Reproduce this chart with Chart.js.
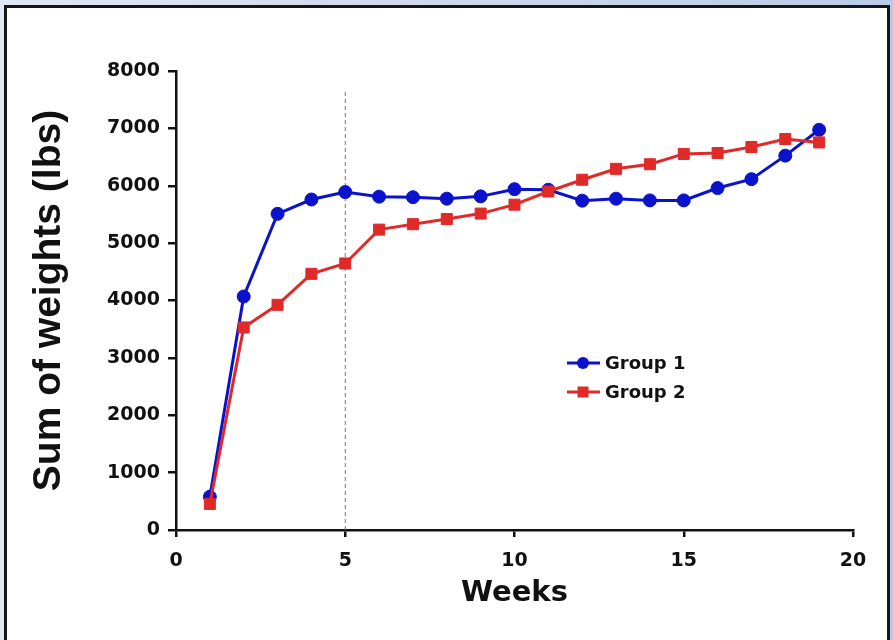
<!DOCTYPE html>
<html>
<head>
<meta charset="utf-8">
<script src="https://cdn.jsdelivr.net/npm/chart.js@4"></script>
<style>
    html, body { margin: 0; padding: 0; }
    body {
        width: 893px;
        height: 640px;
        overflow: hidden;
        position: relative;
        background: linear-gradient(to right, #dfe7f3, #b8cbe6);
    }
    .frame {
        position: absolute;
        left: 4px;
        top: 5px;
        width: 880px;
        height: 650px;
        background: #fff;
        border: 3px solid #151515;
    }
    #chart {
        position: absolute;
        left: 0;
        top: 0;
    }
</style>
</head>
<body>
<div class="frame"></div>
<canvas id="chart" width="893" height="640"></canvas>
<script>
// ===== Data =====
const weeks = [1, 2, 3, 4, 5, 6, 7, 8, 9, 10, 11, 12, 13, 14, 15, 16, 17, 18, 19];
const group1 = [580, 4070, 5510, 5760, 5890, 5810, 5800, 5775, 5815, 5940, 5930, 5740, 5775, 5745, 5745, 5960, 6115, 6525, 6975];
const group2 = [455, 3530, 3925, 4465, 4645, 5235, 5330, 5420, 5515, 5670, 5900, 6105, 6295, 6375, 6555, 6570, 6675, 6815, 6755];
const xTicks = [0, 5, 10, 15, 20];
const yTicks = [0, 1000, 2000, 3000, 4000, 5000, 6000, 7000, 8000];
const markerWeek = 5;
const markerTop = 7650;

const blue = '#0b12cc';
const red = '#e02a2a';

function toPoints(values) {
    return weeks.map((w, i) => ({ x: w, y: values[i] }));
}

// ===== Legend drawn inside the plot =====
const insideLegend = {
    id: 'insideLegend',
    afterDraw(chart) {
        const ctx = chart.ctx;
        const area = chart.chartArea;
        const x0 = area.left + 391;
        let y = 363;
        ctx.save();
        chart.data.datasets.forEach((ds) => {
            if (!ds.inLegend) return;
            ctx.strokeStyle = ds.borderColor;
            ctx.lineWidth = 3;
            ctx.beginPath();
            ctx.moveTo(x0, y);
            ctx.lineTo(x0 + 33, y);
            ctx.stroke();
            ctx.fillStyle = ds.backgroundColor;
            if (ds.pointStyle === 'rect') {
                ctx.fillRect(x0 + 16 - 5.5, y - 5.5, 11, 11);
            } else {
                ctx.beginPath();
                ctx.arc(x0 + 16, y, 6, 0, Math.PI * 2);
                ctx.fill();
            }
            ctx.fillStyle = '#111';
            ctx.font = 'bold 18px "DejaVu Sans"';
            ctx.textBaseline = 'middle';
            ctx.textAlign = 'left';
            ctx.fillText(ds.label, x0 + 38, y + 1);
            y += 29;
        });
        ctx.restore();
    }
};

new Chart(document.getElementById('chart'), {
    type: 'line',
    data: {
        datasets: [
            {
                label: 'Group 1',
                inLegend: true,
                data: toPoints(group1),
                borderColor: blue,
                backgroundColor: blue,
                borderWidth: 3,
                pointStyle: 'circle',
                pointRadius: 6.5,
                pointBorderWidth: 1,
                order: 2
            },
            {
                label: 'Group 2',
                inLegend: true,
                data: toPoints(group2),
                borderColor: red,
                backgroundColor: red,
                borderWidth: 3,
                pointStyle: 'rect',
                pointRadius: 7.8,
                pointBorderWidth: 1,
                order: 1
            },
            {
                label: 'Week 5',
                inLegend: false,
                data: [{ x: markerWeek, y: 0 }, { x: markerWeek, y: markerTop }],
                borderColor: '#777',
                borderWidth: 1,
                borderDash: [4, 3],
                pointRadius: 0,
                order: 3
            }
        ]
    },
    options: {
        responsive: false,
        animation: false,
        layout: { padding: { left: 0, top: 71, right: 40, bottom: 0 } },
        plugins: {
            legend: { display: false },
            tooltip: { enabled: false }
        },
        scales: {
            x: {
                type: 'linear',
                min: 0,
                max: 20,
                afterBuildTicks: (scale) => { scale.ticks = xTicks.map(v => ({ value: v })); },
                afterFit: (scale) => { scale.height = 110; },
                border: { display: true, color: '#111', width: 2.5 },
                grid: { display: true, drawOnChartArea: false, drawTicks: true, tickLength: 7, color: '#111', lineWidth: 2.5 },
                ticks: {
                    color: '#111',
                    padding: 13,
                    font: { family: 'DejaVu Sans', size: 19, weight: 'bold' },
                    callback: (v) => String(v)
                },
                title: {
                    display: true,
                    text: 'Weeks',
                    color: '#111',
                    padding: { top: 0, bottom: 29 },
                    font: { family: 'DejaVu Sans', size: 29, weight: 'bold' }
                }
            },
            y: {
                min: 0,
                max: 8000,
                afterBuildTicks: (scale) => { scale.ticks = yTicks.map(v => ({ value: v })); },
                afterFit: (scale) => { scale.width = 176; },
                border: { display: true, color: '#111', width: 2.5 },
                grid: { display: true, drawOnChartArea: false, drawTicks: true, tickLength: 8, color: '#111', lineWidth: 2.5 },
                ticks: {
                    color: '#111',
                    padding: 8,
                    font: { family: 'DejaVu Sans', size: 19, weight: 'bold' },
                    callback: (v) => String(v)
                },
                title: {
                    display: true,
                    text: 'Sum of weights (lbs)',
                    color: '#111',
                    padding: { top: 26, bottom: 0 },
                    font: { family: 'Liberation Sans', size: 39, weight: 'bold' }
                }
            }
        }
    },
    plugins: [insideLegend]
});
</script>
</body>
</html>
